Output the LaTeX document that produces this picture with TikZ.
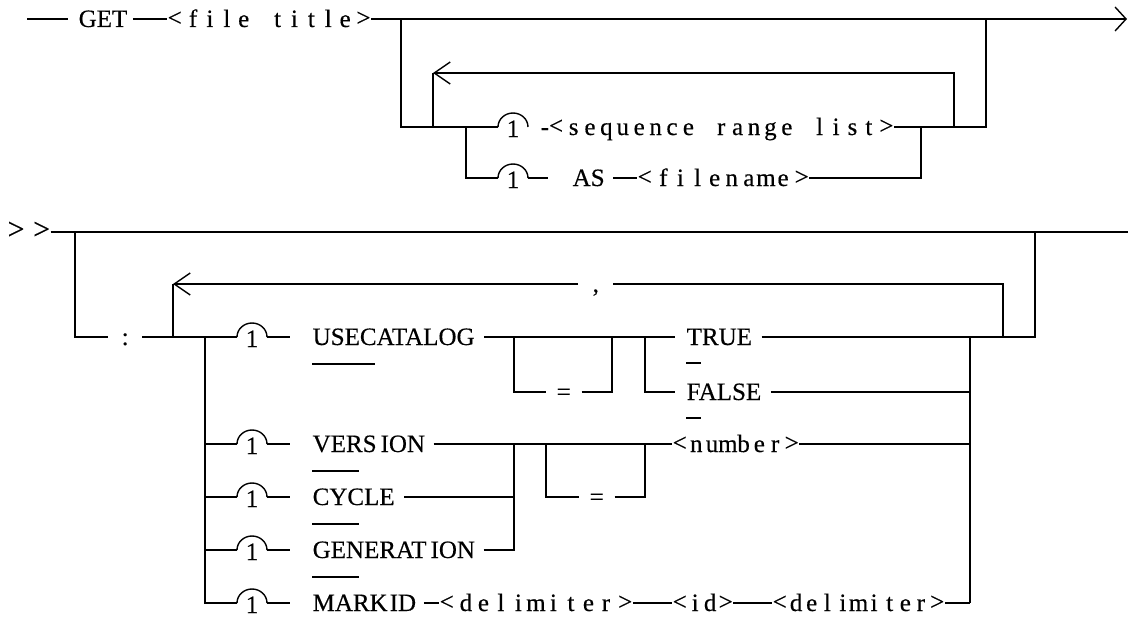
\documentclass[tikz,border=0pt]{standalone}
\usepackage{fontspec}
\setmainfont[FakeBold=0.35]{Liberation Serif}
\newfontfamily\kwfam[FakeBold=0.35]{Liberation Serif}
\usetikzlibrary{arrows.meta,calc}
\ExplSyntaxOn
\NewDocumentCommand\spcells{mm}{\str_map_inline:nn{#2}{\makebox[#1][c]{##1}}}
\ExplSyntaxOff
\newcommand\brk[2]{\makebox[#1][l]{\raisebox{1pt}{<}}\spcells{#1}{#2}\makebox[#1][r]{\raisebox{1pt}{>}}}
\newcommand\kwf{\kwfam\fontsize{25}{25}\selectfont}
\newcommand\btf{\fontsize{25}{25}\selectfont}
\newcommand\onearc[3]{%
  \coordinate (#1l) at (#2,#3);
  \coordinate (#1r) at (#2+30,#3);
  \draw (#1l) arc[start angle=180,end angle=360,x radius=15,y radius=14];
  \node[font=\btf,inner sep=0pt,anchor=base] (#1n) at (#2+15,#3+10) {1};}
\begin{document}
\begin{tikzpicture}[x=1pt,y=-1pt,line width=1.4pt,
  kw/.style={font=\kwf,inner sep=0pt,text height=16pt,text depth=0pt,anchor=west},
  bt/.style={font=\btf,inner sep=0pt,text height=16pt,text depth=0pt,anchor=west},
  loopbarb/.style={-{Straight Barb[length=16pt,width=22pt]}},
  endbarb/.style={-{Straight Barb[length=11pt,width=24pt]}},
  uline/.style={line width=1.2pt}]
\useasboundingbox (0,0) rectangle (1128,629);
% ---------------- part 1 ----------------
\coordinate (st1) at (27,19);
\node[kw] (get) at (78,19) {GET};
\node[bt] (ftitle) at (167,19) {\brk{16.9pt}{file title}};
\coordinate (end1) at (1127,19);
\draw (st1) -- ([xshift=-10pt]get.west);
\draw ([xshift=5pt]get.east) -- (ftitle.west);
\draw[endbarb] (ftitle.east) -- (end1);
\coordinate (j1) at (401,19);
\coordinate (j1b) at (401,127);
\onearc{ar1}{498}{127}
\onearc{ar2}{498}{178}
\draw (j1) -- (j1b) -- (ar1l);
\coordinate (lp1) at (433,127);
\coordinate (lp1t) at (433,73);
\draw (lp1) -- (lp1t);
\coordinate (sb1) at (466,127);
\draw (sb1) |- (ar2l);
\node[bt] (seq) at (540,127) {-\brk{16.4pt}{sequence range list}};
\coordinate (rj1) at (954,127);
\coordinate (rj1t) at (954,73);
\coordinate (oj1) at (986,127);
\coordinate (oj1t) at (986,19);
\draw (seq.east) -- (oj1) -- (oj1t);
\draw[loopbarb] (rj1) -- (rj1t) -- (lp1t);
\node[kw] (as) at (572,178) {AS};
\node[bt] (fname) at (637,178) {\brk{17.1pt}{filename}};
\draw (ar2r) -- ++(20,0);
\draw ([xshift=8pt]as.east) -- (fname.west);
\coordinate (rj2) at (921,178);
\coordinate (rj2t) at (921,127);
\draw (fname.east) -- (rj2) -- (rj2t);
% ---------------- part 2 ----------------
\node[font=\fontsize{30}{30}\selectfont,inner sep=0pt,text height=16pt,text depth=0pt,anchor=west] (cont) at (7,232) {\raisebox{1pt}{> \hspace{1pt}>}};
\coordinate (end2) at (1128,232);
\draw (cont.east) -- (end2);
\coordinate (j2) at (75,232);
\coordinate (j2b) at (75,337);
\node[kw] (colon) at (121,337) {:};
\draw (j2) -- (j2b) -- ([xshift=-13pt]colon.west);
\onearc{ar3}{237}{337}
\onearc{ar4}{237}{444}
\onearc{ar5}{237}{497}
\onearc{ar6}{237}{550}
\onearc{ar7}{237}{603}
\draw ([xshift=13pt]colon.east) -- (ar3l);
\coordinate (lp2) at (173,337);
\coordinate (lp2t) at (173,284);
\draw (lp2) -- (lp2t);
\node[kw] (comma) at (592,284) {,};
\draw[loopbarb] ([xshift=-14pt]comma.west) -- (lp2t);
\coordinate (rj3) at (1003,337);
\coordinate (rj3t) at (1003,284);
\draw (rj3) -- (rj3t) -- ([xshift=13pt]comma.east);
\coordinate (oj) at (205,337);
\coordinate (ojv) at (205,444);
\coordinate (ojc) at (205,497);
\coordinate (ojg) at (205,550);
\draw (oj) |- (ar7l);
\draw (ojv) -- (ar4l);
\draw (ojc) -- (ar5l);
\draw (ojg) -- (ar6l);
% USECATALOG row
\draw (ar3r) -- ++(23,0);
\node[kw] (usecat) at (312,337) {USECATALOG};
\draw[uline] ($(usecat.west)+(0,27)$) -- ++(63,0);
\node[kw] (eq1) at (556,392) {=};
\coordinate (eq1l) at (514,337);
\coordinate (eq1r) at (612,337);
\draw (eq1l) |- ([xshift=-10pt]eq1.west);
\draw ([xshift=10pt]eq1.east) -| (eq1r);
\coordinate (tf) at (645,337);
\node[kw] (true) at (686,337) {TRUE};
\node[kw] (false) at (686,392) {FALSE};
\draw[uline] ($(true.west)+(0,26)$) -- ++(15,0);
\draw[uline] ($(false.west)+(0,26)$) -- ++(15,0);
\draw ([xshift=9pt]usecat.east) -- ([xshift=-11pt]true.west);
\draw (tf) |- ([xshift=-11pt]false.west);
\coordinate (oj2) at (1035,337);
\coordinate (oj2t) at (1035,232);
\draw ([xshift=9pt]true.east) -- (oj2) -- (oj2t);
\coordinate (cr) at (970,337);
\coordinate (crf) at (970,392);
\coordinate (crv) at (970,444);
\coordinate (crb) at (970,603);
\draw (cr) -- (crb);
\draw ([xshift=9pt]false.east) -- (crf);
% VERSION / CYCLE / GENERATION rows
\draw (ar4r) -- ++(23,0);
\draw (ar5r) -- ++(23,0);
\draw (ar6r) -- ++(23,0);
\node[kw] (version) at (312,444) {VERS\kern4pt ION};
\node[kw] (cycle) at (312,497) {CYCLE};
\node[kw] (generation) at (312,550) {GENERAT\kern4pt ION};
\draw[uline] ($(version.west)+(0,27)$) -- ++(47,0);
\draw[uline] ($(cycle.west)+(0,27)$) -- ++(47,0);
\draw[uline] ($(generation.west)+(0,27)$) -- ++(47,0);
\coordinate (vc) at (514,444);
\coordinate (vcc) at (514,497);
\coordinate (vcb) at (514,550);
\node[bt] (number) at (672,444) {\brk{15.75pt}{number}};
\draw ([xshift=8pt]version.east) -- (number.west);
\draw (number.east) -- (crv);
\draw ([xshift=9pt]cycle.east) -- (vcc);
\draw ([xshift=8pt]generation.east) -- (vcb) -- (vc);
\node[kw] (eq2) at (589,497) {=};
\coordinate (eq2l) at (546,444);
\coordinate (eq2r) at (645,444);
\draw (eq2l) |- ([xshift=-10pt]eq2.west);
\draw ([xshift=10pt]eq2.east) -| (eq2r);
% MARKID row
\draw (ar7r) -- ++(23,0);
\node[kw] (markid) at (312,603) {MARK\kern2pt ID};
\node[bt] (dl1) at (439,603) {\brk{17.5pt}{delimiter}};
\node[bt] (idn) at (672,603) {\brk{15pt}{id}};
\node[bt] (dl2) at (772,603) {\brk{15.6pt}{delimiter}};
\draw ([xshift=7pt]markid.east) -- (dl1.west);
\draw (dl1.east) -- (idn.west);
\draw (idn.east) -- (dl2.west);
\draw (dl2.east) -- (crb);
\end{tikzpicture}
\end{document}
